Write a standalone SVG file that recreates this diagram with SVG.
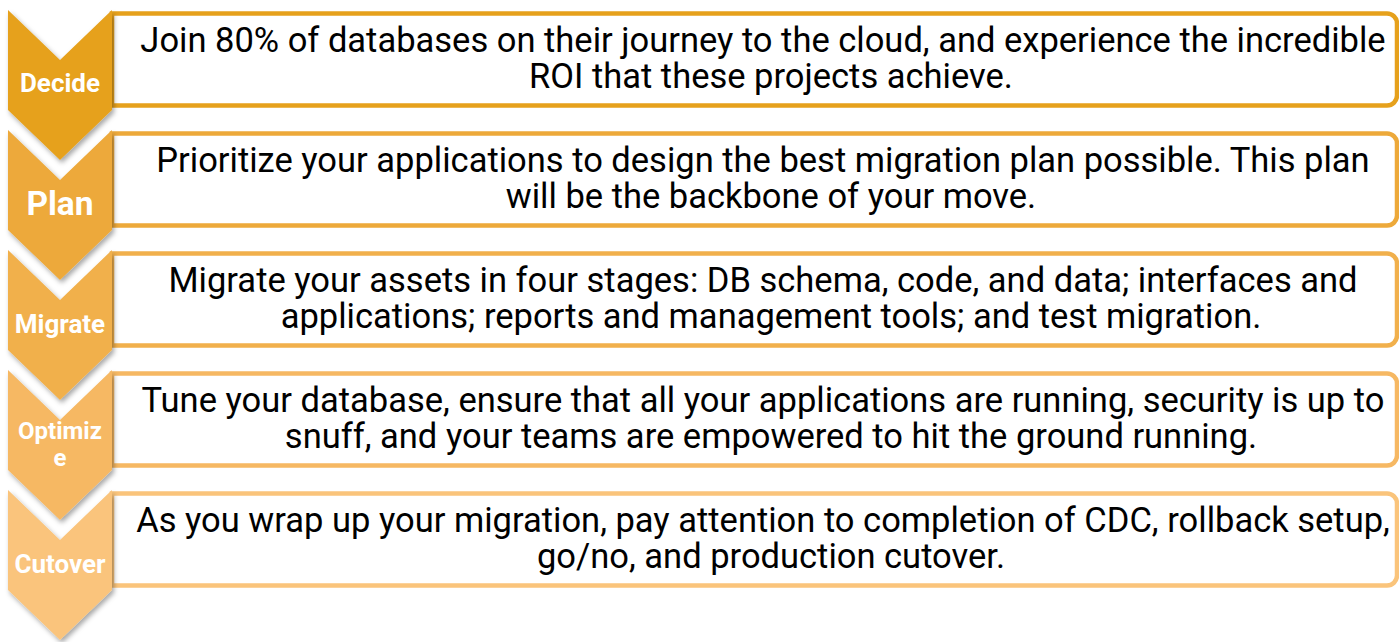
<svg xmlns="http://www.w3.org/2000/svg" width="1399" height="642" viewBox="0 0 1399 642">
<defs>
<filter id="sh" x="-20%" y="-20%" width="150%" height="140%">
<feDropShadow dx="2" dy="3" stdDeviation="2.5" flood-color="#000" flood-opacity="0.35"/>
</filter>
<path id="chev" d="M8,0 L60,50 L112,0 L112,100 L60,150 L8,100 Z"/>
</defs>
<style>
.box{fill:#fff;stroke-width:4.5}
.t{font-family:Roboto,"Liberation Sans",sans-serif;font-size:34.5px;fill:#000;text-anchor:middle}
.l{font-family:Roboto,"Liberation Sans",sans-serif;font-weight:bold;fill:#fff;text-anchor:middle}
</style>
<g id="connectors"></g>
<g id="cutover">
<path class="box" stroke="#FAC47B" d="M112,493.5 H1387 A10,10 0 0 1 1397,503.5 V575.5 A10,10 0 0 1 1387,585.5 H112 Z"/>
<use href="#chev" y="490" fill="#FAC47B" filter="url(#sh)"/>
<text class="l" x="60" y="573" font-size="26">Cutover</text>
<text class="t" x="763" y="532">As you wrap up your migration, pay attention to completion of CDC, rollback setup,</text>
<text class="t" x="771" y="568">go/no, and production cutover.</text>
</g>
<g id="optimize">
<path class="box" stroke="#F6B863" d="M112,373.5 H1387 A10,10 0 0 1 1397,383.5 V455.5 A10,10 0 0 1 1387,465.5 H112 Z"/>
<use href="#chev" y="370" fill="#F6B863" filter="url(#sh)"/>
<text class="l" x="60" y="439" font-size="24">Optimiz</text>
<text class="l" x="60" y="466" font-size="24">e</text>
<text class="t" x="763" y="412">Tune your database, ensure that all your applications are running, security is up to</text>
<text class="t" x="771" y="448">snuff, and your teams are empowered to hit the ground running.</text>
</g>
<g id="migrate">
<path class="box" stroke="#F1B04C" d="M112,253.5 H1387 A10,10 0 0 1 1397,263.5 V335.5 A10,10 0 0 1 1387,345.5 H112 Z"/>
<use href="#chev" y="250" fill="#F1B04C" filter="url(#sh)"/>
<text class="l" x="60" y="333" font-size="26">Migrate</text>
<text class="t" x="763" y="292">Migrate your assets in four stages: DB schema, code, and data; interfaces and</text>
<text class="t" x="771" y="328">applications; reports and management tools; and test migration.</text>
</g>
<g id="plan">
<path class="box" stroke="#EDA93A" d="M112,133.5 H1387 A10,10 0 0 1 1397,143.5 V215.5 A10,10 0 0 1 1387,225.5 H112 Z"/>
<use href="#chev" y="130" fill="#EDA93A" filter="url(#sh)"/>
<text class="l" x="60" y="215" font-size="33.5">Plan</text>
<text class="t" x="763" y="172">Prioritize your applications to design the best migration plan possible. This plan</text>
<text class="t" x="771" y="208">will be the backbone of your move.</text>
</g>
<g id="decide">
<path class="box" stroke="#E6A11C" d="M112,13.5 H1387 A10,10 0 0 1 1397,23.5 V95.5 A10,10 0 0 1 1387,105.5 H112 Z"/>
<use href="#chev" y="10" fill="#E6A11C" filter="url(#sh)"/>
<text class="l" x="60" y="92" font-size="26">Decide</text>
<text class="t" x="763" y="52">Join 80% of databases on their journey to the cloud, and experience the incredible</text>
<text class="t" x="771" y="88">ROI that these projects achieve.</text>
</g>
</svg>
